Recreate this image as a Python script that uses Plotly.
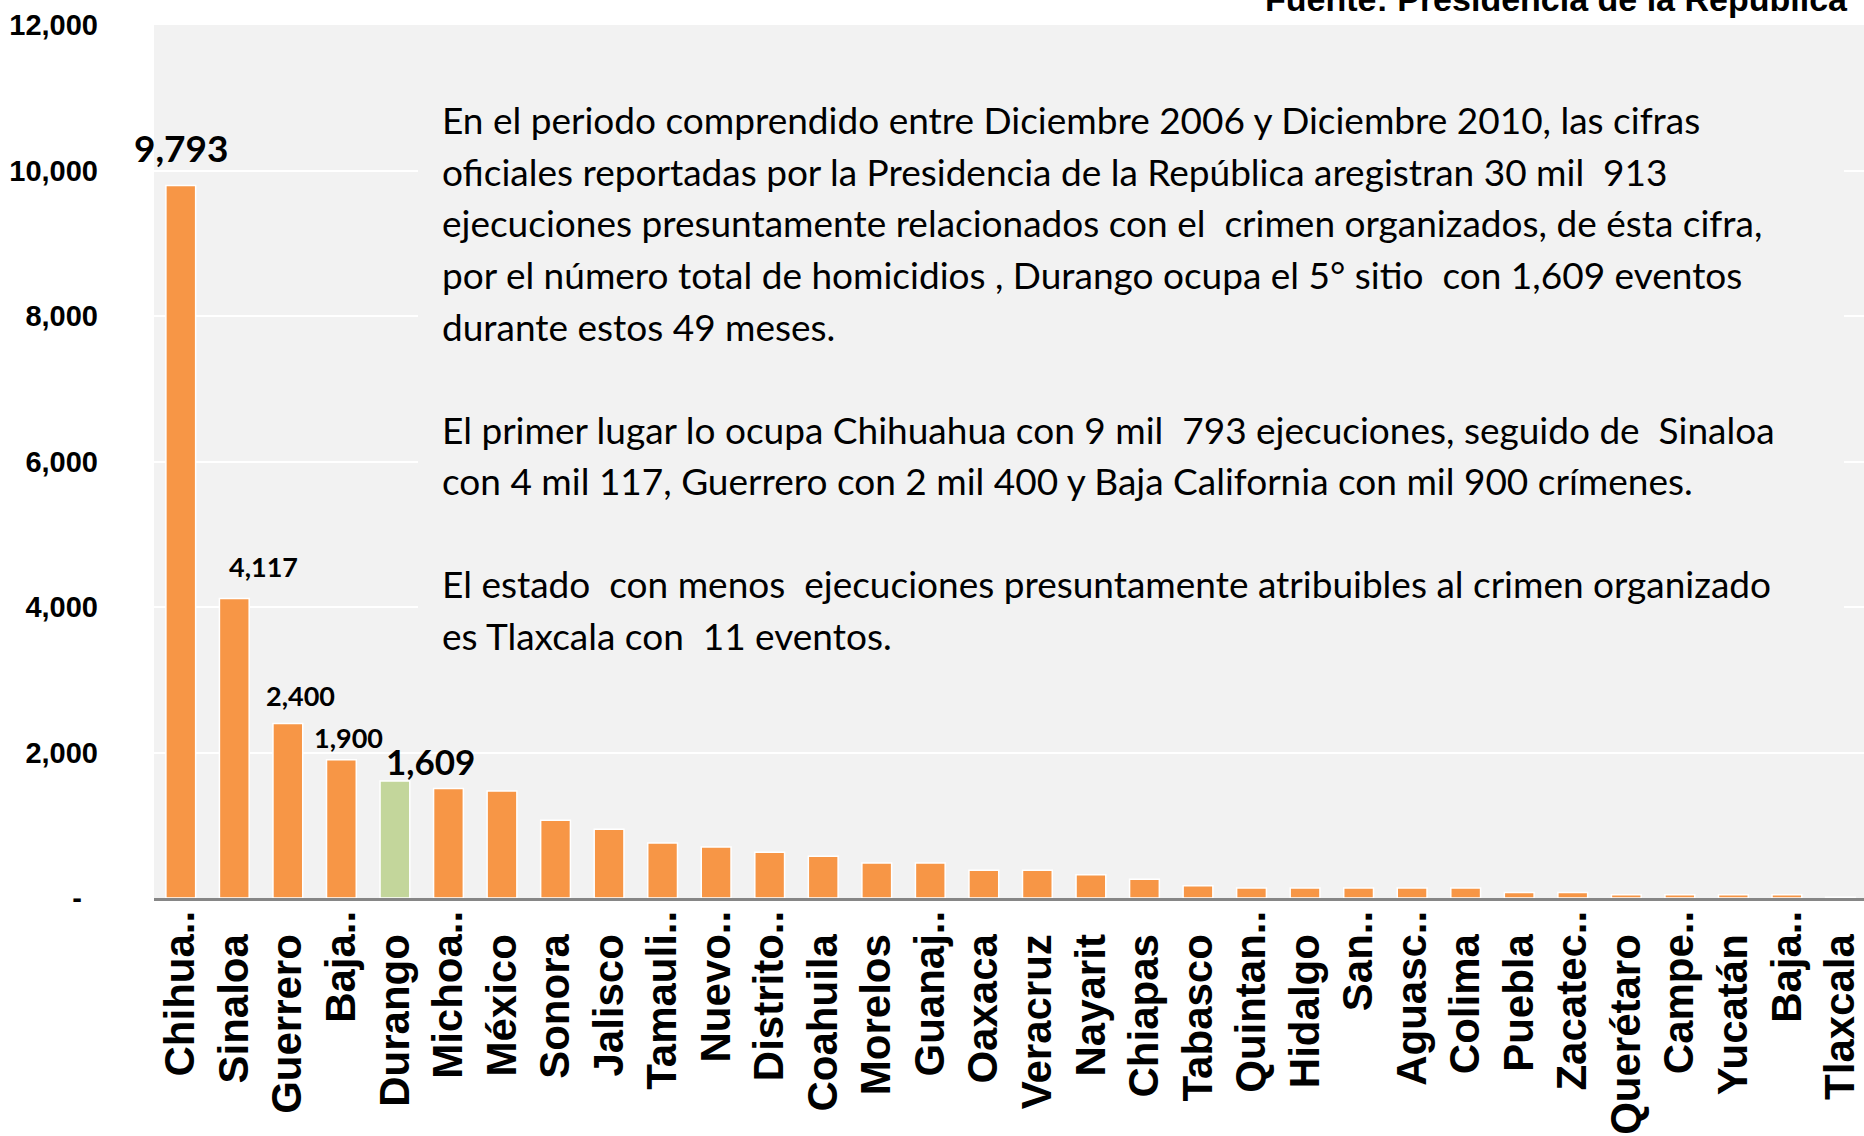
import plotly.graph_objects as go

# ---------------- data ----------------
states = ["Chihuahua", "Sinaloa", "Guerrero", "Baja California", "Durango", "Michoacán",
          "México", "Sonora", "Jalisco", "Tamaulipas", "Nuevo León", "Distrito Federal",
          "Coahuila", "Morelos", "Guanajuato", "Oaxaca", "Veracruz", "Nayarit", "Chiapas",
          "Tabasco", "Quintana Roo", "Hidalgo", "San Luis Potosí", "Aguascalientes", "Colima",
          "Puebla", "Zacatecas", "Querétaro", "Campeche", "Yucatán", "Baja California Sur",
          "Tlaxcala"]
tick_labels = ["Chihua..", "Sinaloa", "Guerrero", "Baja..", "Durango", "Michoa..", "México",
               "Sonora", "Jalisco", "Tamauli..", "Nuevo..", "Distrito..", "Coahuila", "Morelos",
               "Guanaj..", "Oaxaca", "Veracruz", "Nayarit", "Chiapas", "Tabasco", "Quintan..",
               "Hidalgo", "San..", "Aguasc..", "Colima", "Puebla", "Zacatec..", "Querétaro",
               "Campe..", "Yucatán", "Baja..", "Tlaxcala"]
ejecuciones = [9793, 4117, 2400, 1900, 1609, 1505, 1470, 1070, 945, 755, 700, 630,
               575, 480, 480, 380, 380, 320, 257, 170, 138, 138, 138, 138, 138,
               74, 74, 46, 46, 46, 46, 11]
labeled_count = 5
highlight_state = "Durango"

y_tick_vals = [0, 2000, 4000, 6000, 8000, 10000, 12000]
y_tick_text = ["-", "2,000", "4,000", "6,000", "8,000", "10,000", "12,000"]

source_text = "Fuente: Presidencia de la República"
body_lines = [
    "En el periodo comprendido entre Diciembre 2006 y Diciembre 2010, las cifras",
    "oficiales reportadas por la Presidencia de la República aregistran 30 mil  913",
    "ejecuciones presuntamente relacionados con el  crimen organizados, de ésta cifra,",
    "por el número total de homicidios , Durango ocupa el 5° sitio  con 1,609 eventos",
    "durante estos 49 meses.",
    "",
    "El primer lugar lo ocupa Chihuahua con 9 mil  793 ejecuciones, seguido de  Sinaloa",
    "con 4 mil 117, Guerrero con 2 mil 400 y Baja California con mil 900 crímenes.",
    "",
    "El estado  con menos  ejecuciones presuntamente atribuibles al crimen organizado",
    "es Tlaxcala con  11 eventos.",
]

# ---------------- style ----------------
W, H = 1864, 1136
ML, MR, MT, MB = 154, 0, 25, 238
PW, PH = W - ML - MR, H - MT - MB
ORANGE = "#F79646"
GREEN = "#C3D69B"
BG = "#F2F2F2"

def px_x(p):
    return (p - ML) / PW

def px_y(p):
    return (H - MB - p) / PH

label_fonts = [37, 27, 27, 27, 35]
label_xshift = [1, 29, 13, 7, 36]
label_yshift = [38, 32, 28, 22, 20]

colors = [GREEN if s == highlight_state else ORANGE for s in states]
ticktext_x = [t if t.endswith("..") else t + "\u00a0\u00a0" for t in tick_labels]
ticktext_y = [t if t != "-" else "-\u00a0\u00a0" for t in y_tick_text]

fig = go.Figure()
fig.add_trace(go.Bar(
    x=states, y=ejecuciones,
    marker=dict(color=colors, line=dict(color="white", width=1.5)),
    hoverinfo="x+y",
))

annotations = []
for i in range(labeled_count):
    annotations.append(dict(
        x=states[i], y=ejecuciones[i], xref="x", yref="y",
        text=f"{ejecuciones[i]:,}", showarrow=False,
        xanchor="center", yanchor="middle",
        xshift=label_xshift[i], yshift=label_yshift[i],
        font=dict(family="Lato", size=label_fonts[i], color="black", weight="bold"),
    ))

# source
annotations.append(dict(
    x=px_x(1850), y=px_y(20), xref="paper", yref="paper",
    text=source_text, showarrow=False, xanchor="right", yanchor="bottom",
    font=dict(family="Liberation Sans", size=34, color="black", weight="bold"),
))

# body text
base_mid = 120
step = 51.5
for k, line in enumerate(body_lines):
    if not line:
        continue
    annotations.append(dict(
        x=px_x(440), y=px_y(base_mid + step * k), xref="paper", yref="paper",
        text=line, showarrow=False, xanchor="left", yanchor="middle",
        font=dict(family="Lato", size=37, color="black"),
    ))

fig.update_layout(
    width=W, height=H,
    margin=dict(l=ML, r=MR, t=MT, b=MB, pad=0, autoexpand=False),
    paper_bgcolor="white", plot_bgcolor=BG,
    bargap=0.444, showlegend=False,
    annotations=annotations,
    shapes=[dict(
        type="rect", xref="paper", yref="paper",
        x0=px_x(418), x1=px_x(1844), y0=px_y(680), y1=1.0,
        fillcolor=BG, line=dict(width=0), layer="above",
    )],
    xaxis=dict(
        type="category", tickmode="array", tickvals=states, ticktext=ticktext_x,
        tickangle=-90, range=[-0.5, 31.44], automargin=False,
        tickfont=dict(family="Liberation Sans", size=42, color="black", weight="bold"),
        showgrid=False, showline=True, linecolor="#868686", linewidth=3,
        ticks="", ticklabelstandoff=-7,
    ),
    yaxis=dict(
        range=[0, 12000], tickmode="array", tickvals=y_tick_vals, ticktext=ticktext_y,
        automargin=False,
        tickfont=dict(family="Liberation Sans", size=29,
                      color="black", weight="bold"),
        showgrid=True, gridcolor="white", gridwidth=2, zeroline=False,
        showline=False, ticks="", ticklabelstandoff=55,
    ),
)

fig.write_html("out.html", config={"displayModeBar": False},
               post_script="document.body.style.margin='0';")
